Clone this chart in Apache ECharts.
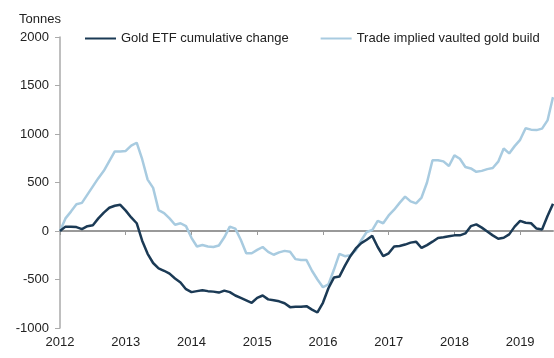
<!DOCTYPE html>
<html>
<head>
<meta charset="utf-8">
<script src="https://cdn.jsdelivr.net/npm/echarts@6/dist/echarts.min.js"></script>
<style>
html,body{margin:0;padding:0;background:#fff;}
#chart{width:554px;height:358px;}
</style>
</head>
<body>
<div id="chart"></div>
<script>
const months = [
"2012-01","2012-02","2012-03","2012-04","2012-05","2012-06","2012-07","2012-08","2012-09","2012-10","2012-11","2012-12",
"2013-01","2013-02","2013-03","2013-04","2013-05","2013-06","2013-07","2013-08","2013-09","2013-10","2013-11","2013-12",
"2014-01","2014-02","2014-03","2014-04","2014-05","2014-06","2014-07","2014-08","2014-09","2014-10","2014-11","2014-12",
"2015-01","2015-02","2015-03","2015-04","2015-05","2015-06","2015-07","2015-08","2015-09","2015-10","2015-11","2015-12",
"2016-01","2016-02","2016-03","2016-04","2016-05","2016-06","2016-07","2016-08","2016-09","2016-10","2016-11","2016-12",
"2017-01","2017-02","2017-03","2017-04","2017-05","2017-06","2017-07","2017-08","2017-09","2017-10","2017-11","2017-12",
"2018-01","2018-02","2018-03","2018-04","2018-05","2018-06","2018-07","2018-08","2018-09","2018-10","2018-11","2018-12",
"2019-01","2019-02","2019-03","2019-04","2019-05","2019-06","2019-07"
];
const goldEtf = [
0,45,45,40,20,50,60,130,190,240,260,270,
210,140,80,-100,-235,-330,-385,-410,-440,-490,-530,-600,
-630,-620,-610,-620,-625,-635,-615,-630,-665,-690,-715,-740,
-690,-665,-705,-715,-725,-745,-785,-780,-780,-775,-810,-840,
-740,-590,-480,-470,-360,-260,-180,-125,-90,-50,-165,-260,
-230,-160,-155,-140,-120,-110,-175,-145,-110,-72,-65,-55,
-45,-45,-25,50,68,35,-5,-45,-80,-70,-35,45,
105,85,80,25,15,155,280
];
const tradeVault = [
0,130,200,275,290,375,460,545,620,720,820,820,
825,880,910,740,530,445,215,185,130,65,80,50,
-70,-160,-145,-160,-165,-150,-65,45,25,-90,-230,-230,
-195,-165,-215,-245,-220,-205,-215,-290,-300,-300,-410,-500,
-580,-550,-400,-235,-260,-250,-200,-95,-10,10,105,80,
160,220,290,355,305,285,345,500,730,730,718,670,
780,745,660,645,610,620,638,650,715,850,800,875,
940,1060,1045,1040,1055,1140,1380
];
const seriesNames = ["Gold ETF cumulative change", "Trade implied vaulted gold build"];
const yTicks = {min:-1000, max:2000, interval:500};

const chart = echarts.init(document.getElementById('chart'), null, {renderer:'canvas'});
const yearStart = (idx) => idx % 12 === 0;
const font = 'Liberation Sans, Arial, sans-serif';
chart.setOption({
  animation:false,
  backgroundColor:'#fff',
  title:{text:'Tonnes', left:14, top:8, textStyle:{fontSize:13, fontWeight:'normal', color:'#222', fontFamily:font}},
  legend:{
    left:80, top:27, width:474, itemWidth:31, itemHeight:2, itemGap:32, icon:'rect',
    textStyle:{fontSize:13, color:'#222', fontFamily:font},
    data:seriesNames
  },
  grid:{left:60, right:1, top:37, bottom:30},
  xAxis:[{
    type:'category', data:months, boundaryGap:false, position:'bottom',
    axisLine:{show:false, onZero:false}, axisTick:{show:false},
    axisLabel:{interval:yearStart, formatter:(v)=>v.slice(0,4), fontSize:13, color:'#222', fontFamily:font, margin:8},
    splitLine:{show:false}
  },{
    type:'category', data:months, boundaryGap:false, position:'top',
    axisLine:{show:true, onZero:true, lineStyle:{color:'#999', width:2}},
    axisTick:{show:true, inside:true, interval:yearStart, length:4, lineStyle:{color:'#999'}},
    axisLabel:{show:false}, splitLine:{show:false}
  }],
  yAxis:{
    type:'value', min:yTicks.min, max:yTicks.max, interval:yTicks.interval,
    axisLine:{show:true, onZero:false, lineStyle:{color:'#aaa', width:1.5}},
    axisTick:{show:true, length:5, lineStyle:{color:'#aaa'}},
    axisLabel:{fontSize:13, color:'#222', fontFamily:font, margin:11, formatter:(v)=>String(v)},
    splitLine:{show:false}
  },
  series:[{
    name:seriesNames[0], type:'line', data:goldEtf, xAxisIndex:0, showSymbol:false, symbol:'none', z:3,
    lineStyle:{color:'#1b3a55', width:2.5}, itemStyle:{color:'#1b3a55'}
  },{
    name:seriesNames[1], type:'line', data:tradeVault, xAxisIndex:0, showSymbol:false, symbol:'none', z:2,
    lineStyle:{color:'#a8cbe0', width:2.5}, itemStyle:{color:'#a8cbe0'}
  }]
});
</script>
</body>
</html>
